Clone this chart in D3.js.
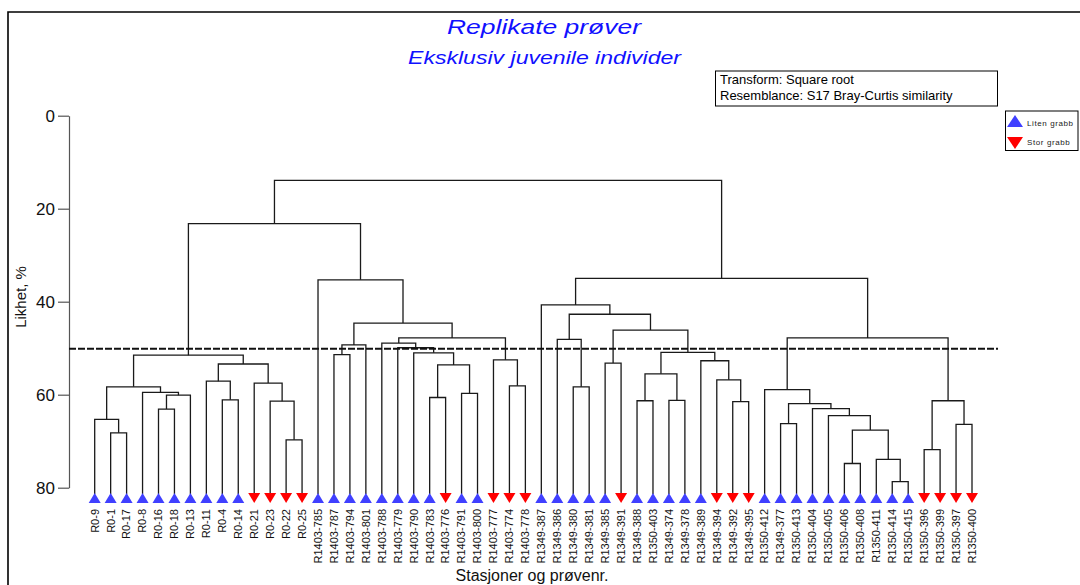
<!DOCTYPE html>
<html><head><meta charset="utf-8">
<script src="https://cdn.jsdelivr.net/npm/d3@7"></script>
<style>body{margin:0;background:#fff}svg{display:block;font-family:"Liberation Sans",Arial,sans-serif}</style>
</head><body>
<svg id="c" width="1080" height="585"></svg>
<script>
// Leaf labels (left to right)
const leaves = ["R0-9","R0-1","R0-17","R0-8","R0-16","R0-18","R0-13","R0-11","R0-4","R0-14","R0-21","R0-23","R0-22","R0-25",
"R1403-785","R1403-787","R1403-794","R1403-801","R1403-788","R1403-779","R1403-790","R1403-783","R1403-776","R1403-791","R1403-800","R1403-777","R1403-774","R1403-778",
"R1349-387","R1349-386","R1349-380","R1349-381","R1349-385","R1349-391","R1349-388","R1350-403","R1349-374","R1349-378","R1349-389","R1349-394","R1349-392","R1349-395",
"R1350-412","R1349-377","R1350-413","R1350-404","R1350-405","R1350-406","R1350-408","R1350-411","R1350-414","R1350-415","R1350-396","R1350-399","R1350-397","R1350-400"];
// Sample type per leaf: L = Liten grabb, S = Stor grabb
const leafType = ["L","L","L","L","L","L","L","L","L","L","S","S","S","S",
"L","L","L","L","L","L","L","L","S","L","L","S","S","S",
"L","L","L","L","L","S","L","L","L","L","L","S","S","S",
"L","L","L","L","L","L","L","L","L","L","S","S","S","S"];
// Merges: [childA, childB, similarity %]; node id of merge k = leaves.length + k
const mergeA = [1,0,4,58,3,57,8,7,12,11,10,63,61, 15,69,21,23,71,20,19,18,26,25,76,70,14,68, 30,29,32,34,36,86,40,39,38,88,85,84,28, 43,47,50,49,97,46,45,96,42,52,54,105,104,95,82];
const mergeB = [2,56,5,6,59,60,9,62,13,64,65,66,67, 16,17,22,24,72,73,74,75,27,77,78,79,80,81, 31,83,33,35,37,87,41,89,90,91,92,93,94, 44,48,51,98,99,100,101,102,103,53,55,106,107,108,109];
const mergeH = [68.2,65.3,63.1,60.1,59.5,58.3,61.1,57.1,69.7,61.4,57.5,53.4,51.5, 51.4,49.3,60.6,59.7,53.6,51.0,49.9,48.9,58.1,52.5,47.8,44.6,35.3,23.2, 58.3,48.1,53.2,61.3,61.2,55.5,61.5,56.8,52.7,50.9,46.1,42.7,40.7, 66.2,74.8,78.7,73.9,67.6,64.5,63.0,61.9,58.9,71.8,66.4,61.3,47.8,35.0,13.9];
const yTicks = [0,20,40,60,80];
const cutLevel = 50.1;
const leafLevel = 81.4;

const svg = d3.select("#c");
const x = d3.scalePoint().domain(d3.range(leaves.length)).range([94.7, 972]);
const y = d3.scaleLinear().domain([0,80]).range([115.7, 487.7]);

// frame
svg.append("path").attr("d","M8,585 V12 H1080").attr("fill","none").attr("stroke","#000").attr("stroke-width",1.6);

// titles
svg.append("text").attr("x",447).attr("y",34).attr("font-size",21).attr("font-style","italic").attr("fill","#1010ff")
  .attr("textLength",194).attr("lengthAdjust","spacingAndGlyphs").text("Replikate prøver");
svg.append("text").attr("x",408).attr("y",64).attr("font-size",18).attr("font-style","italic").attr("fill","#1010ff")
  .attr("textLength",273).attr("lengthAdjust","spacingAndGlyphs").text("Eksklusiv juvenile individer");

// info box
svg.append("rect").attr("x",715.5).attr("y",71).attr("width",282).attr("height",35).attr("fill","none").attr("stroke","#000").attr("stroke-width",1);
svg.append("text").attr("x",720).attr("y",84).attr("font-size",13).text("Transform: Square root");
svg.append("text").attr("x",720).attr("y",100).attr("font-size",13).text("Resemblance: S17 Bray-Curtis similarity");

// legend
svg.append("rect").attr("x",1005.5).attr("y",111).attr("width",72.5).attr("height",39.5).attr("fill","#fff").attr("stroke","#000").attr("stroke-width",1);
svg.append("path").attr("d","M1007,127 L1015,115 L1023,127 Z").attr("fill","#4040ff");
svg.append("path").attr("d","M1007,137 L1015,149 L1023,137 Z").attr("fill","#ff0000");
svg.append("text").attr("x",1027).attr("y",125.5).attr("font-size",8).attr("letter-spacing",0.6).attr("fill","#222").text("Liten grabb");
svg.append("text").attr("x",1027).attr("y",144.5).attr("font-size",8).attr("letter-spacing",0.6).attr("fill","#222").text("Stor grabb");

// axis
const ax = svg.append("g").attr("transform","translate(69,0)")
  .call(d3.axisLeft(y).tickValues(yTicks).tickSize(11).tickSizeOuter(0).tickPadding(3));
ax.selectAll("path,line").attr("stroke","#555").attr("stroke-width",1.2);
ax.selectAll("text").attr("font-size",17).attr("fill","#111").attr("font-family","Liberation Sans, Arial, sans-serif");
svg.append("text").attr("transform","translate(26,297) rotate(-90)").attr("text-anchor","middle").attr("font-size",15).attr("fill","#111").text("Likhet, %");
svg.append("text").attr("x",532).attr("y",581).attr("text-anchor","middle").attr("font-size",16).attr("fill","#111").text("Stasjoner og prøvenr.");

// dendrogram
const nL = leaves.length;
const pos = {}, hgt = {};
leaves.forEach((d,i)=>{pos[i]=x(i); hgt[i]=leafLevel;});
const g = svg.append("g").attr("fill","none").attr("stroke","#1a1a1a").attr("stroke-width",1.3);
mergeH.forEach((h,k)=>{
  const a=mergeA[k], b=mergeB[k], id=nL+k;
  const xa=pos[a], xb=pos[b];
  g.append("path").attr("d",`M${xa},${y(hgt[a])} V${y(h)} H${xb} V${y(hgt[b])}`);
  pos[id]=(xa+xb)/2; hgt[id]=h;
});

// cut line
svg.append("line").attr("x1",69).attr("x2",998).attr("y1",y(cutLevel)).attr("y2",y(cutLevel))
  .attr("stroke","#111").attr("stroke-width",2).attr("stroke-dasharray","7,2");

// leaf symbols
leaves.forEach((d,i)=>{
  const cx=x(i);
  if(leafType[i]==="L") svg.append("path").attr("d",`M${cx-6},${503} L${cx},${493} L${cx+6},${503} Z`).attr("fill","#4040ff");
  else svg.append("path").attr("d",`M${cx-6},${493} L${cx},${503} L${cx+6},${493} Z`).attr("fill","#ff0000");
});
// leaf labels
svg.append("g").selectAll("text").data(leaves).join("text")
  .attr("transform",(d,i)=>`translate(${x(i)},509) rotate(-90)`)
  .attr("text-anchor","end").attr("dy","0.35em").attr("font-size",11).attr("fill","#111").text(d=>d);
</script>
</body></html>
